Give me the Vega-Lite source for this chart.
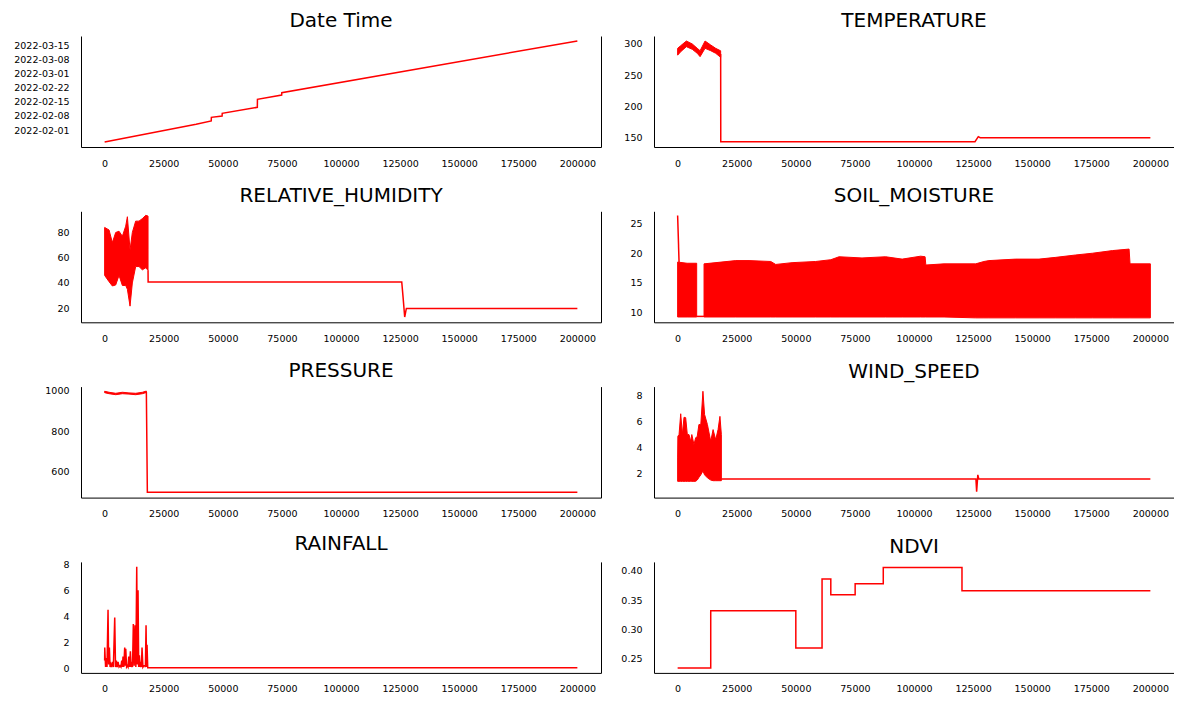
{
"$schema": "https://vega.github.io/schema/vega-lite/v6.json",
"background": "white",
"padding": {"left": 13, "top": 11, "right": 0, "bottom": 0},
"config": {
 "font": "DejaVu Sans",
 "view": {"stroke": null},
 "axis": {"grid": false, "ticks": false, "domainColor": "#000000", "domainWidth": 1, "labelColor": "#000000", "labelFontSize": 9.5, "labelPadding": 12, "labelOverlap": false, "labelFlush": false},
 "axisX": {"labelPadding": 11},
 "title": {"fontSize": 20, "fontWeight": "normal", "color": "#000000", "offset": 5},
 "line": {"color": "#ff0000", "strokeWidth": 1.5},
 "area": {"color": "#ff0000", "stroke": "#ff0000", "strokeWidth": 1}
},
"columns": 2,
"bounds": "flush",
"spacing": {"row": 64.3, "column": 53},
"concat": [
 {
  "title": "Date Time", "width": 520, "height": 111,
  "data": {"values": [
   {"x": 0, "t": "2022-01-26T02:00:00"},
   {"x": 38700, "t": "2022-02-03T20:00:00"},
   {"x": 45100, "t": "2022-02-05T11:00:00"},
   {"x": 45150, "t": "2022-02-07T06:30:00"},
   {"x": 49700, "t": "2022-02-07T22:00:00"},
   {"x": 49750, "t": "2022-02-09T06:00:00"},
   {"x": 64600, "t": "2022-02-12T05:00:00"},
   {"x": 64650, "t": "2022-02-16T04:00:00"},
   {"x": 74900, "t": "2022-02-18T07:00:00"},
   {"x": 74950, "t": "2022-02-19T10:00:00"},
   {"x": 200000, "t": "2022-03-17T00:00:00"}
  ]},
  "layer": [
   {"mark": "line", "encoding": {
    "x": {"field": "x", "type": "quantitative", "title": null, "scale": {"domain": [-10000, 210000], "nice": false, "zero": false}, "axis": {"values": [0,25000,50000,75000,100000,125000,150000,175000,200000], "format": "d"}},
    "y": {"field": "t", "type": "temporal", "title": null, "scale": {"domain": [{"year": 2022, "month": 1, "date": 23, "hours": 14, "minutes": 25}, {"year": 2022, "month": 3, "date": 19, "hours": 10, "minutes": 45}], "nice": false},
      "axis": {"values": [{"year": 2022, "month": 2, "date": 1}, {"year": 2022, "month": 2, "date": 8}, {"year": 2022, "month": 2, "date": 15}, {"year": 2022, "month": 2, "date": 22}, {"year": 2022, "month": 3, "date": 1}, {"year": 2022, "month": 3, "date": 8}, {"year": 2022, "month": 3, "date": 15}], "format": "%Y-%m-%d"}}
   }},
   {"mark": {"type": "line", "opacity": 0}, "encoding": {
    "x": {"field": "x", "type": "quantitative", "title": null},
    "y": {"field": "t", "type": "temporal", "title": null, "axis": {"orient": "right", "labels": false, "ticks": false, "domain": true}}
   }}
  ],
  "resolve": {"axis": {"y": "independent"}}
 },
 {
  "title": "TEMPERATURE", "width": 520, "height": 111,
  "layer": [
   {"data": {"values": [
     {"x": 18200, "v": 284}, {"x": 18250, "v": 142.4}, {"x": 125800, "v": 142.4}, {"x": 127200, "v": 150.5}, {"x": 128000, "v": 148.9}, {"x": 200000, "v": 148.9}
    ]},
    "mark": "line", "encoding": {
    "x": {"field": "x", "type": "quantitative", "title": null, "scale": {"domain": [-10000, 210000], "nice": false, "zero": false}, "axis": {"values": [0,25000,50000,75000,100000,125000,150000,175000,200000], "format": "d"}},
    "y": {"field": "v", "type": "quantitative", "title": null, "scale": {"domain": [133.9, 312.9], "nice": false, "zero": false}, "axis": {"values": [150, 200, 250, 300]}}
   }},
   {"data": {"values": [
     {"x": 0, "lo": 282, "hi": 293}, {"x": 1300, "lo": 287.6, "hi": 297.3}, {"x": 3700, "lo": 295.7, "hi": 304.8}, {"x": 6200, "lo": 291.4, "hi": 300}, {"x": 8300, "lo": 285, "hi": 293}, {"x": 9500, "lo": 279.6, "hi": 289.2}, {"x": 11600, "lo": 293, "hi": 304.8}, {"x": 14000, "lo": 289.2, "hi": 298.4}, {"x": 16100, "lo": 285, "hi": 293}, {"x": 18200, "lo": 278.5, "hi": 289}
    ]},
    "mark": "area", "encoding": {
    "x": {"field": "x", "type": "quantitative", "title": null},
    "y": {"field": "lo", "type": "quantitative", "title": null, "axis": {"orient": "right", "labels": false, "ticks": false, "domain": true}},
    "y2": {"field": "hi"}
   }}
  ],
  "resolve": {"axis": {"y": "independent"}}
 },
 {
  "title": "RELATIVE_HUMIDITY", "width": 520, "height": 111,
  "layer": [
   {"data": {"values": [
     {"x": 18360, "v": 50}, {"x": 18400, "v": 40.8}, {"x": 125700, "v": 40.8}, {"x": 126250, "v": 29}, {"x": 126950, "v": 13}, {"x": 127650, "v": 19.8}, {"x": 200000, "v": 19.8}
    ]},
    "mark": "line", "encoding": {
    "x": {"field": "x", "type": "quantitative", "title": null, "scale": {"domain": [-10000, 210000], "nice": false, "zero": false}, "axis": {"values": [0,25000,50000,75000,100000,125000,150000,175000,200000], "format": "d"}},
    "y": {"field": "v", "type": "quantitative", "title": null, "scale": {"domain": [8.8, 96.8], "nice": false, "zero": false}, "axis": {"values": [20, 40, 60, 80]}}
   }},
   {"data": {"values": [
     {"x": 0, "lo": 46, "hi": 84}, {"x": 1860, "lo": 41, "hi": 82}, {"x": 3270, "lo": 37.6, "hi": 72}, {"x": 4680, "lo": 38.4, "hi": 80}, {"x": 6090, "lo": 46, "hi": 81}, {"x": 7500, "lo": 38, "hi": 77}, {"x": 8910, "lo": 38, "hi": 85}, {"x": 9620, "lo": 35, "hi": 92.5}, {"x": 10750, "lo": 21.6, "hi": 66}, {"x": 11720, "lo": 40, "hi": 80}, {"x": 13130, "lo": 53, "hi": 89}, {"x": 14540, "lo": 53, "hi": 89}, {"x": 15950, "lo": 50.4, "hi": 91}, {"x": 17380, "lo": 52, "hi": 93.6}, {"x": 18360, "lo": 50, "hi": 93}
    ]},
    "mark": "area", "encoding": {
    "x": {"field": "x", "type": "quantitative", "title": null},
    "y": {"field": "lo", "type": "quantitative", "title": null, "axis": {"orient": "right", "labels": false, "ticks": false, "domain": true}},
    "y2": {"field": "hi"}
   }}
  ],
  "resolve": {"axis": {"y": "independent"}}
 },
 {
  "title": "SOIL_MOISTURE", "width": 520, "height": 111,
  "layer": [
   {"data": {"values": [
     {"x": 0, "v": 26.4, "s": "spike"}, {"x": 600, "v": 18.5, "s": "spike"},
     {"x": 8060, "v": 9.3, "s": "gap"}, {"x": 11170, "v": 9.3, "s": "gap"}
    ]},
    "mark": "line", "encoding": {
    "x": {"field": "x", "type": "quantitative", "title": null, "scale": {"domain": [-10000, 210000], "nice": false, "zero": false}, "axis": {"values": [0,25000,50000,75000,100000,125000,150000,175000,200000], "format": "d"}},
    "y": {"field": "v", "type": "quantitative", "title": null, "scale": {"domain": [8.3, 27.1], "nice": false, "zero": false}, "axis": {"values": [10, 15, 20, 25]}},
    "detail": {"field": "s", "type": "nominal"}
   }},
   {"data": {"values": [
     {"x": 0, "lo": 9.2, "hi": 18.5, "s": 1}, {"x": 4000, "lo": 9.2, "hi": 18.3, "s": 1}, {"x": 8060, "lo": 9.2, "hi": 18.3, "s": 1},
     {"x": 11170, "lo": 9.2, "hi": 18.2, "s": 2}, {"x": 24580, "lo": 9.2, "hi": 18.75, "s": 2}, {"x": 30200, "lo": 9.2, "hi": 18.75, "s": 2}, {"x": 39400, "lo": 9.2, "hi": 18.6, "s": 2}, {"x": 41500, "lo": 9.2, "hi": 18.1, "s": 2}, {"x": 48400, "lo": 9.2, "hi": 18.4, "s": 2}, {"x": 58400, "lo": 9.2, "hi": 18.6, "s": 2}, {"x": 64800, "lo": 9.2, "hi": 18.9, "s": 2}, {"x": 68300, "lo": 9.2, "hi": 19.4, "s": 2}, {"x": 78000, "lo": 9.2, "hi": 19.2, "s": 2}, {"x": 88000, "lo": 9.2, "hi": 19.4, "s": 2}, {"x": 95000, "lo": 9.2, "hi": 19.0, "s": 2}, {"x": 102800, "lo": 9.2, "hi": 19.5, "s": 2}, {"x": 104700, "lo": 9.2, "hi": 19.4, "s": 2}, {"x": 105000, "lo": 9.2, "hi": 18.0, "s": 2}, {"x": 112700, "lo": 9.2, "hi": 18.2, "s": 2}, {"x": 126100, "lo": 9.05, "hi": 18.2, "s": 2}, {"x": 129600, "lo": 9.05, "hi": 18.6, "s": 2}, {"x": 131700, "lo": 9.05, "hi": 18.75, "s": 2}, {"x": 143000, "lo": 9.05, "hi": 19.0, "s": 2}, {"x": 152900, "lo": 9.05, "hi": 19.0, "s": 2}, {"x": 160000, "lo": 9.05, "hi": 19.3, "s": 2}, {"x": 168400, "lo": 9.05, "hi": 19.7, "s": 2}, {"x": 175500, "lo": 9.05, "hi": 20.0, "s": 2}, {"x": 184000, "lo": 9.05, "hi": 20.45, "s": 2}, {"x": 191000, "lo": 9.05, "hi": 20.7, "s": 2}, {"x": 191400, "lo": 9.05, "hi": 18.2, "s": 2}, {"x": 200000, "lo": 9.05, "hi": 18.2, "s": 2}
    ]},
    "mark": "area", "encoding": {
    "x": {"field": "x", "type": "quantitative", "title": null},
    "y": {"field": "lo", "type": "quantitative", "title": null, "axis": {"orient": "right", "labels": false, "ticks": false, "domain": true}},
    "y2": {"field": "hi"},
    "detail": {"field": "s", "type": "nominal"}
   }}
  ],
  "resolve": {"axis": {"y": "independent"}}
 },
 {
  "title": "PRESSURE", "width": 520, "height": 111,
  "layer": [
   {"data": {"values": [
     {"x": 17650, "v": 995}, {"x": 18070, "v": 499}, {"x": 200000, "v": 499}
    ]},
    "mark": "line", "encoding": {
    "x": {"field": "x", "type": "quantitative", "title": null, "scale": {"domain": [-10000, 210000], "nice": false, "zero": false}, "axis": {"values": [0,25000,50000,75000,100000,125000,150000,175000,200000], "format": "d"}},
    "y": {"field": "v", "type": "quantitative", "title": null, "scale": {"domain": [472, 1020], "nice": false, "zero": false}, "axis": {"values": [600, 800, 1000], "format": "d"}}
   }},
   {"data": {"values": [
     {"x": 0, "lo": 990, "hi": 997}, {"x": 1860, "lo": 985, "hi": 992}, {"x": 4700, "lo": 980, "hi": 987}, {"x": 7500, "lo": 985, "hi": 992}, {"x": 10300, "lo": 983, "hi": 989}, {"x": 13150, "lo": 980, "hi": 987}, {"x": 16000, "lo": 985, "hi": 992}, {"x": 17650, "lo": 991, "hi": 998}
    ]},
    "mark": "area", "encoding": {
    "x": {"field": "x", "type": "quantitative", "title": null},
    "y": {"field": "lo", "type": "quantitative", "title": null, "axis": {"orient": "right", "labels": false, "ticks": false, "domain": true}},
    "y2": {"field": "hi"}
   }}
  ],
  "resolve": {"axis": {"y": "independent"}}
 },
 {
  "title": "WIND_SPEED", "width": 520, "height": 111,
  "layer": [
   {"data": {"values": [
     {"x": 18500, "v": 1.59}, {"x": 126200, "v": 1.59}, {"x": 126500, "v": 0.6}, {"x": 127000, "v": 1.9}, {"x": 127400, "v": 1.59}, {"x": 200000, "v": 1.59}
    ]},
    "mark": "line", "encoding": {
    "x": {"field": "x", "type": "quantitative", "title": null, "scale": {"domain": [-10000, 210000], "nice": false, "zero": false}, "axis": {"values": [0,25000,50000,75000,100000,125000,150000,175000,200000], "format": "d"}},
    "y": {"field": "v", "type": "quantitative", "title": null, "scale": {"domain": [0.15, 8.69], "nice": false, "zero": false}, "axis": {"values": [2, 4, 6, 8]}}
   }},
   {"data": {"values": [
     {"x": 0, "lo": 1.4, "hi": 3.2}, {"x": 100, "lo": 1.4, "hi": 4.87}, {"x": 600, "lo": 1.4, "hi": 5.0}, {"x": 1300, "lo": 1.4, "hi": 6.6}, {"x": 2000, "lo": 1.4, "hi": 5.0}, {"x": 2700, "lo": 1.4, "hi": 6.33}, {"x": 3400, "lo": 1.4, "hi": 6.3}, {"x": 4100, "lo": 1.4, "hi": 5.0}, {"x": 4800, "lo": 1.4, "hi": 5.0}, {"x": 5500, "lo": 1.4, "hi": 4.48}, {"x": 6000, "lo": 1.4, "hi": 5.0}, {"x": 6900, "lo": 1.4, "hi": 4.23}, {"x": 7600, "lo": 1.4, "hi": 4.74}, {"x": 8300, "lo": 1.5, "hi": 4.87}, {"x": 9000, "lo": 1.7, "hi": 5.77}, {"x": 9800, "lo": 1.9, "hi": 5.77}, {"x": 10700, "lo": 2.2, "hi": 8.33}, {"x": 11400, "lo": 1.9, "hi": 6.54}, {"x": 12600, "lo": 1.67, "hi": 5.77}, {"x": 14000, "lo": 1.5, "hi": 4.48}, {"x": 15000, "lo": 1.45, "hi": 5.38}, {"x": 16100, "lo": 1.45, "hi": 4.6}, {"x": 17100, "lo": 1.45, "hi": 5.38}, {"x": 17900, "lo": 1.45, "hi": 6.4}, {"x": 18500, "lo": 1.45, "hi": 5.0}
    ]},
    "mark": "area", "encoding": {
    "x": {"field": "x", "type": "quantitative", "title": null},
    "y": {"field": "lo", "type": "quantitative", "title": null, "axis": {"orient": "right", "labels": false, "ticks": false, "domain": true}},
    "y2": {"field": "hi"}
   }}
  ],
  "resolve": {"axis": {"y": "independent"}}
 },
 {
  "title": "RAINFALL", "width": 520, "height": 111,
  "data": {"values": [
   {"x": 0, "v": 0.6}, {"x": 50, "v": 1.6}, {"x": 400, "v": 0.1}, {"x": 600, "v": 0.8}, {"x": 1000, "v": 0.1}, {"x": 1440, "v": 4.5}, {"x": 1700, "v": 0.3}, {"x": 2000, "v": 1.6}, {"x": 2300, "v": 0.1}, {"x": 2580, "v": 0.3}, {"x": 2900, "v": 0.1}, {"x": 3270, "v": 0.5}, {"x": 3700, "v": 0.1}, {"x": 4270, "v": 3.9}, {"x": 4600, "v": 0.1}, {"x": 4950, "v": 0.6}, {"x": 5300, "v": 0.1}, {"x": 5670, "v": 0.5}, {"x": 6100, "v": 0.1}, {"x": 6520, "v": 0.2}, {"x": 6900, "v": 0.1}, {"x": 7230, "v": 0.6}, {"x": 7500, "v": 0.1}, {"x": 7780, "v": 0.9}, {"x": 8100, "v": 0.1}, {"x": 8490, "v": 1.6}, {"x": 8700, "v": 0.2}, {"x": 8930, "v": 1.5}, {"x": 9300, "v": 0.1}, {"x": 9620, "v": 0.2}, {"x": 9900, "v": 0.1}, {"x": 10200, "v": 0.9}, {"x": 10550, "v": 0.1}, {"x": 10900, "v": 1.3}, {"x": 11200, "v": 0.1}, {"x": 11460, "v": 0.3}, {"x": 11800, "v": 0.1}, {"x": 12140, "v": 3.4}, {"x": 12500, "v": 0.2}, {"x": 12860, "v": 3.3}, {"x": 13200, "v": 0.1}, {"x": 13580, "v": 7.8}, {"x": 13850, "v": 0.3}, {"x": 14130, "v": 6.0}, {"x": 14400, "v": 0.1}, {"x": 14700, "v": 1.0}, {"x": 15000, "v": 0.1}, {"x": 15270, "v": 0.5}, {"x": 15550, "v": 0.1}, {"x": 15820, "v": 1.6}, {"x": 16200, "v": 0.1}, {"x": 16540, "v": 0.2}, {"x": 16970, "v": 0.2}, {"x": 17250, "v": 0.1}, {"x": 17520, "v": 3.3}, {"x": 17750, "v": 0.1}, {"x": 17940, "v": 1.8}, {"x": 18230, "v": 0.05}, {"x": 200000, "v": 0.05}
  ]},
  "layer": [
   {"mark": "line", "encoding": {
    "x": {"field": "x", "type": "quantitative", "title": null, "scale": {"domain": [-10000, 210000], "nice": false, "zero": false}, "axis": {"values": [0,25000,50000,75000,100000,125000,150000,175000,200000], "format": "d"}},
    "y": {"field": "v", "type": "quantitative", "title": null, "scale": {"domain": [-0.35, 8.17], "nice": false, "zero": false}, "axis": {"values": [0, 2, 4, 6, 8]}}
   }},
   {"mark": {"type": "line", "opacity": 0}, "encoding": {
    "x": {"field": "x", "type": "quantitative", "title": null},
    "y": {"field": "v", "type": "quantitative", "title": null, "axis": {"orient": "right", "labels": false, "ticks": false, "domain": true}}
   }}
  ],
  "resolve": {"axis": {"y": "independent"}}
 },
 {
  "title": "NDVI", "width": 520, "height": 111,
  "data": {"values": [
   {"x": 0, "v": 0.234}, {"x": 14000, "v": 0.3317}, {"x": 50000, "v": 0.268}, {"x": 61100, "v": 0.3863}, {"x": 64800, "v": 0.359}, {"x": 75100, "v": 0.378}, {"x": 87000, "v": 0.406}, {"x": 120300, "v": 0.366}, {"x": 200000, "v": 0.366}
  ]},
  "layer": [
   {"mark": {"type": "line", "interpolate": "step-after"}, "encoding": {
    "x": {"field": "x", "type": "quantitative", "title": null, "scale": {"domain": [-10000, 210000], "nice": false, "zero": false}, "axis": {"values": [0,25000,50000,75000,100000,125000,150000,175000,200000], "format": "d"}},
    "y": {"field": "v", "type": "quantitative", "title": null, "scale": {"domain": [0.2254, 0.4154], "nice": false, "zero": false}, "axis": {"values": [0.25, 0.30, 0.35, 0.40], "format": ".2f"}}
   }},
   {"mark": {"type": "line", "opacity": 0}, "encoding": {
    "x": {"field": "x", "type": "quantitative", "title": null},
    "y": {"field": "v", "type": "quantitative", "title": null, "axis": {"orient": "right", "labels": false, "ticks": false, "domain": true}}
   }}
  ],
  "resolve": {"axis": {"y": "independent"}}
 }
]
}
